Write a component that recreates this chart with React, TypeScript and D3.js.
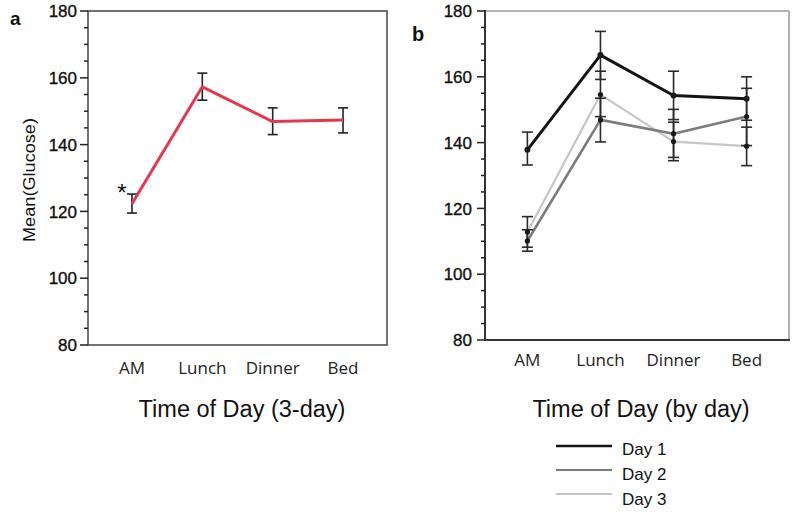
import React from "react";
import * as d3 from "d3";

const categories = ["AM", "Lunch", "Dinner", "Bed"];
const yTicks = [80, 100, 120, 140, 160, 180];

// Panel a: 3-day mean, error bars
const meanA = [122.3, 157.3, 146.9, 147.4];
const lowA = [119.5, 153.3, 143.0, 143.5];
const highA = [125.2, 161.4, 151.0, 151.0];

// Panel b: by day
const dayNames = ["Day 1", "Day 2", "Day 3"];
const day1Mean = [137.8, 166.6, 154.3, 153.3];
const day1Low = [133.2, 159.2, 147.0, 146.8];
const day1High = [143.2, 173.8, 161.7, 160.0];
const day2Mean = [110.1, 146.9, 142.7, 147.9];
const day2Low = [107.0, 140.2, 135.5, 139.1];
const day2High = [113.5, 153.5, 150.1, 156.5];
const day3Mean = [112.8, 154.6, 140.3, 138.9];
const day3Low = [108.2, 147.9, 134.5, 133.0];
const day3High = [117.5, 161.7, 146.2, 144.7];
const dayColors = ["#141414", "#7c7c7c", "#c6c6c6"];
const dayWidths = [3, 2.6, 2.2];

const FONT = "'Liberation Sans', Arial, sans-serif";
const CAT_FONT = "'Open Sans', sans-serif";

function YAxis({ y, x, labelX }: { y: d3.ScaleLinear<number, number>; x: number; labelX: number }) {
  const minor = d3.range(80, 181, 5).filter((v) => v % 20 !== 0);
  return (
    <g>
      {yTicks.map((t) => (
        <g key={t}>
          <line x1={x - 8} x2={x} y1={y(t)} y2={y(t)} stroke="#222" strokeWidth={1.5} />
          <text
            x={labelX}
            y={y(t)}
            dy="0.36em"
            textAnchor="end"
            fontFamily={FONT}
            fontSize={17}
            fill="#111"
            stroke="#111"
            strokeWidth={0.35}
          >
            {t}
          </text>
        </g>
      ))}
      {minor.map((t) => (
        <line key={t} x1={x - 4} x2={x} y1={y(t)} y2={y(t)} stroke="#222" strokeWidth={1.5} />
      ))}
    </g>
  );
}

function ErrBar({ x, lo, hi, hw, color }: { x: number; lo: number; hi: number; hw: number; color: string }) {
  return (
    <g stroke={color} strokeWidth={1.6} fill="none">
      <line x1={x} x2={x} y1={lo} y2={hi} />
      <line x1={x - hw} x2={x + hw} y1={lo} y2={lo} />
      <line x1={x - hw} x2={x + hw} y1={hi} y2={hi} />
    </g>
  );
}

export default function App() {
  // Panel a
  const ax0 = 88, ax1 = 387, ay0 = 345, ay1 = 11;
  const xA = d3.scalePoint<string>().domain(categories).range([ax0, ax1]).padding(0.625);
  const yA = d3.scaleLinear().domain([80, 180]).range([ay0, ay1]);
  const lineA = d3
    .line<number>()
    .x((_, i) => xA(categories[i]) as number)
    .y((d) => yA(d));

  // Panel b
  const bx0 = 485, bx1 = 789, by0 = 340, by1 = 11;
  const xB = d3.scalePoint<string>().domain(categories).range([bx0, bx1]).padding(0.58);
  const yB = d3.scaleLinear().domain([80, 180]).range([by0, by1]);
  const lineB = d3
    .line<number>()
    .x((_, i) => xB(categories[i]) as number)
    .y((d) => yB(d));

  const days = [
    { mean: day1Mean, low: day1Low, high: day1High },
    { mean: day2Mean, low: day2Low, high: day2High },
    { mean: day3Mean, low: day3Low, high: day3High },
  ];

  return (
    <svg
      width={800}
      height={522}
      style={{ position: "absolute", left: 0, top: 0, background: "#fff" }}
    >
      <rect width={800} height={522} fill="#fff" />

      {/* ---------- Panel a ---------- */}
      <text x={10} y={25} fontFamily={FONT} fontWeight="bold" fontSize={19} fill="#111">a</text>
      <rect x={ax0} y={ay1} width={ax1 - ax0} height={ay0 - ay1} fill="none" stroke="#444" strokeWidth={1.5} />
      <YAxis y={yA} x={ax0} labelX={77} />
      {categories.map((c) => (
        <text key={c} x={xA(c)} y={374} textAnchor="middle" fontFamily={CAT_FONT} fontSize={17} fill="#222">
          {c}
        </text>
      ))}
      <text
        transform={`translate(35,180) rotate(-90)`}
        textAnchor="middle"
        fontFamily={FONT}
        fontSize={16}
        textLength={124}
        lengthAdjust="spacingAndGlyphs"
        fill="#111"
      >
        Mean(Glucose)
      </text>
      <text x={242} y={417} textAnchor="middle" fontFamily={FONT} fontSize={23.5} fill="#111">
        Time of Day (3-day)
      </text>
      {meanA.map((m, i) => (
        <ErrBar key={i} x={xA(categories[i]) as number} lo={yA(lowA[i])} hi={yA(highA[i])} hw={5} color="#222" />
      ))}
      <path d={lineA(meanA) as string} fill="none" stroke="#e3384d" strokeWidth={3} strokeLinejoin="round" />
      <text x={122} y={201} textAnchor="middle" fontFamily={FONT} fontSize={24} fill="#111">*</text>

      {/* ---------- Panel b ---------- */}
      <text x={412} y={41} fontFamily={FONT} fontWeight="bold" fontSize={20} fill="#111">b</text>
      <line x1={bx0} x2={bx1} y1={by1} y2={by1} stroke="#999" strokeWidth={1.5} />
      <line x1={bx1} x2={bx1} y1={by1} y2={by0} stroke="#999" strokeWidth={1.5} />
      <line x1={bx0} x2={bx0} y1={by1 - 1} y2={by0 + 1} stroke="#333" strokeWidth={2} />
      <line x1={bx0} x2={bx1 + 1} y1={by0} y2={by0} stroke="#333" strokeWidth={2} />
      <YAxis y={yB} x={bx0} labelX={472} />
      {categories.map((c) => (
        <text key={c} x={xB(c)} y={366} textAnchor="middle" fontFamily={CAT_FONT} fontSize={17} fill="#222">
          {c}
        </text>
      ))}
      <text x={641} y={417} textAnchor="middle" fontFamily={FONT} fontSize={23.5} fill="#111">
        Time of Day (by day)
      </text>
      {days
        .slice()
        .reverse()
        .map((d, ri) => {
          const k = days.length - 1 - ri;
          return (
            <path
              key={k}
              d={lineB(d.mean) as string}
              fill="none"
              stroke={dayColors[k]}
              strokeWidth={dayWidths[k]}
              strokeLinejoin="round"
            />
          );
        })}
      {days.map((d, k) =>
        d.mean.map((m, i) => (
          <ErrBar
            key={`${k}-${i}`}
            x={xB(categories[i]) as number}
            lo={yB(d.low[i])}
            hi={yB(d.high[i])}
            hw={5.5}
            color="#2a2a2a"
          />
        ))
      )}
      {days.map((d, k) =>
        d.mean.map((m, i) => (
          <circle key={`m${k}-${i}`} cx={xB(categories[i]) as number} cy={yB(m)} r={k === 0 ? 3 : 2.6} fill="#1a1a1a" />
        ))
      )}

      {/* legend */}
      {dayNames.map((n, i) => (
        <g key={n}>
          <line x1={556} x2={612} y1={446 + i * 24} y2={446 + i * 24} stroke={dayColors[i]} strokeWidth={dayWidths[i] - 0.4} />
          <text x={622} y={455 + i * 25} fontFamily={FONT} fontSize={17} fill="#111">
            {n}
          </text>
        </g>
      ))}
    </svg>
  );
}
